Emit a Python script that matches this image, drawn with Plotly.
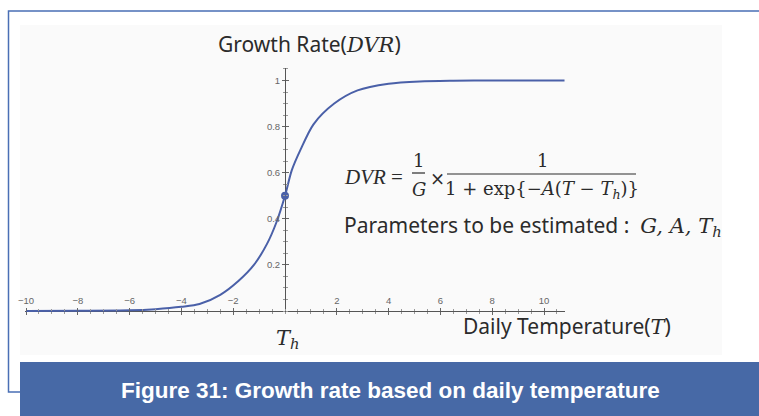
import plotly.graph_objects as go

# ── Data ──────────────────────────────────────────────────────────────────────
temp = [-10, -8, -6, -5, -4, -3.3, -2.5, -1.8, -1.2, -0.7, -0.33, 0,
        0.26, 0.6, 1.1, 1.9, 2.8, 4.0, 5.2, 6.5, 8, 10, 10.8]
dvr = [0.0, 0.001, 0.003, 0.008, 0.018, 0.03, 0.07, 0.13, 0.2, 0.29, 0.385, 0.5,
       0.61, 0.70, 0.81, 0.90, 0.957, 0.986, 0.996, 0.999, 1.0, 1.0, 1.0]
point_temp = [0]
point_dvr = [0.5]

x_ticks = [-10, -8, -6, -4, -2, 2, 4, 6, 8, 10]
y_ticks = [0.2, 0.4, 0.6, 0.8, 1]
y_tick_text = ["0.2", "0.4", "0.6", "0.8", "1"]

caption = "Figure 31: Growth rate based on daily temperature"

# ── Layout helpers ────────────────────────────────────────────────────────────
W, H = 759, 416
BLUE = "#4a60a8"
FRAME = "#4a6fb5"
BAND = "#4769a6"
TXT = "#2b2b2b"
SANS = "Noto Sans"
SERIF = "DejaVu Serif"


def px(x):
    return x / W


def py(y):
    return 1 - y / H


# plot area in pixels: x=0 at 285px, y=0 at 311px
X0_PX, XU = 285, 25.9
Y0_PX, YU = 311, 230.5
x_rng = [-10.05, 10.8]
y_rng = [-0.015, 1.055]
x_dom = [px(X0_PX + x_rng[0] * XU), px(X0_PX + x_rng[1] * XU)]
y_dom = [py(Y0_PX - y_rng[0] * YU), py(Y0_PX - y_rng[1] * YU)]

tickfont = dict(family="Liberation Sans", size=9.5, color="#666")

fig = go.Figure()
fig.add_trace(go.Scatter(x=temp, y=dvr, mode="lines",
                         line=dict(color=BLUE, width=2, shape="spline", smoothing=0.8),
                         showlegend=False, hoverinfo="skip"))
fig.add_trace(go.Scatter(x=point_temp, y=point_dvr, mode="markers",
                         marker=dict(color=BLUE, size=8), showlegend=False))

axis_common = dict(showgrid=False, showline=False, zeroline=False, automargin=False)
fig.update_layout(
    width=W, height=H, margin=dict(l=0, r=0, t=0, b=0, autoexpand=False),
    paper_bgcolor="white", plot_bgcolor="rgba(0,0,0,0)",
    xaxis=dict(domain=x_dom, range=x_rng, anchor="free", position=py(Y0_PX),
               side="top", tickvals=x_ticks, ticks="outside", ticklen=3,
               tickcolor="#666", tickfont=tickfont, automargin=False,
               minor=dict(dtick=0.5, tick0=0, ticks="outside", ticklen=2, tickcolor="#999"),
               zeroline=True, zerolinecolor="#555", zerolinewidth=1,
               showgrid=False, showline=False),
    xaxis2=dict(domain=x_dom, range=x_rng, anchor="free", position=py(Y0_PX),
                overlaying="x", side="bottom", tickvals=x_ticks, ticks="outside",
                ticklen=3, tickcolor="#666", showticklabels=False,
                minor=dict(dtick=0.5, tick0=0, ticks="outside", ticklen=2, tickcolor="#999"),
                **axis_common),
    yaxis=dict(domain=y_dom, range=y_rng, anchor="free", position=px(X0_PX),
               side="left", tickvals=y_ticks, ticktext=y_tick_text, ticks="outside",
               ticklen=3, tickcolor="#666", tickfont=tickfont, automargin=False,
               minor=dict(dtick=0.05, tick0=0, ticks="outside", ticklen=2, tickcolor="#999"),
               zeroline=True, zerolinecolor="#555", zerolinewidth=1,
               showgrid=False, showline=False),
    yaxis2=dict(domain=y_dom, range=y_rng, anchor="free", position=px(X0_PX),
                overlaying="y", side="right", tickvals=y_ticks, ticks="outside",
                ticklen=3, tickcolor="#666", showticklabels=False,
                minor=dict(dtick=0.05, tick0=0, ticks="outside", ticklen=2, tickcolor="#999"),
                **axis_common),
)
# invisible trace so the overlay axes get drawn
fig.add_trace(go.Scatter(x=[None], y=[None], xaxis="x2", yaxis="y2", showlegend=False))

# ── Frame, background and caption band ───────────────────────────────────────
shapes = [
    dict(type="rect", xref="paper", yref="paper", x0=px(20), x1=px(722), y0=py(355), y1=py(25),
         fillcolor="#fafafa", line=dict(width=0), layer="below"),
    # outer frame: right side runs off the page, bottom edge hidden by the band
    dict(type="rect", xref="paper", yref="paper", x0=px(8.5), x1=px(775), y0=py(392), y1=py(11),
         fillcolor="rgba(0,0,0,0)", line=dict(color=FRAME, width=1.5)),
    dict(type="rect", xref="paper", yref="paper", x0=px(20), x1=px(775), y0=py(430), y1=py(362),
         fillcolor=BAND, line=dict(width=0)),
    # fraction bars
    dict(type="line", xref="paper", yref="paper", x0=px(412), x1=px(425), y0=py(173), y1=py(173),
         line=dict(color=TXT, width=1.2)),
    dict(type="line", xref="paper", yref="paper", x0=px(447), x1=px(636), y0=py(174), y1=py(174),
         line=dict(color=TXT, width=1.2)),
]
fig.update_layout(shapes=shapes)


def note(x, y, text, size=18, family=SANS, color=TXT, xanchor="center"):
    fig.add_annotation(x=px(x), y=py(y), xref="paper", yref="paper", text=text,
                       showarrow=False, xanchor=xanchor, yanchor="middle",
                       font=dict(family=family, size=size, color=color))


ital = '<span style="font-family:DejaVu Serif"><i>{}</i></span>'

note(309, 44, "Growth Rate(" + ital.format("DVR") + ")", size=21)
note(567, 326, "Daily Temperature(" + ital.format("T") + ")", size=21)
note(287, 339, "<i>T</i><sub><i>h</i></sub>", size=21, family=SERIF)

# formula
note(342, 177, "<i>DVR</i> =", size=21, family="Liberation Serif", xanchor="left")
note(418.5, 160, "1", size=18, family=SERIF)
note(418.5, 189, "<i>G</i>", size=18, family=SERIF)
note(437, 178, "×", size=18, family=SERIF)
note(542, 160, "1", size=18, family=SERIF)
note(541.5, 190, "1 + exp{−<i>A</i>(<i>T</i> − <i>T</i><sub><i>h</i></sub>)}",
     size=18, family=SERIF)
note(342, 225, "Parameters to be estimated :&nbsp; " + ital.format("G, A, T") +
     '<sub><span style="font-family:DejaVu Serif"><i>h</i></span></sub>',
     size=21, xanchor="left")

note(390, 390, "<b>" + caption + "</b>", size=22.5, family="Liberation Sans", color="white")

fig.write_html("out.html", config={"displayModeBar": False},
               post_script="document.body.style.margin='0';"
               "document.body.style.overflow='hidden';")
